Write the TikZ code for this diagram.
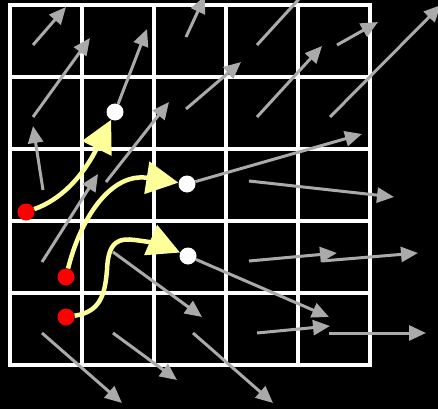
\documentclass[tikz,border=0pt]{standalone}
\usepackage{tikz}
\usetikzlibrary{arrows.meta}
\definecolor{cG}{HTML}{AAAAAA}
\definecolor{cY}{HTML}{FFFF99}
\definecolor{cR}{HTML}{FF0000}
\tikzset{
  gridline/.style={white,line width=3.5pt,line cap=rect},
  src/.style={circle,fill=cR,inner sep=0pt,minimum size=17pt},
  dst/.style={circle,fill=white,inner sep=0pt,minimum size=17pt},
  flow/.style={-{Triangle[length=17pt,width=15pt]},cG,line width=3pt},
  traj/.style={-{Triangle[length=32pt,width=32pt]},cY,line width=4.5pt},
}

\begin{document}
\begin{tikzpicture}[x=1pt,y=-1pt]
  % background and frame
  \fill[black] (0,0) rectangle (438,409);
  \clip (0,0) rectangle (438,409);
  % grid
  \foreach \k in {0,...,5}{
     \draw[gridline] (10+72*\k,5) -- (10+72*\k,365);
     \draw[gridline] (10,5+72*\k) -- (370,5+72*\k);
  }
  % start and end points
  \node[src] (r1) at (26,212) {};
  \node[src] (r2) at (66,277) {};
  \node[src] (r3) at (66,317) {};
  \node[dst] (w1) at (115,112) {};
  \node[dst] (w2) at (187,184) {};
  \node[dst] (w3) at (188,256) {};
  % vector field
  \foreach \ax/\ay/\bx/\by [count=\i] in {
      33/45/66/7, 33/117/90/38, 186/37/205/-4, 257/45/320/-24,
      337/45/378/22, 43/190/33/126, 186/109/241/62, 257/117/322/46,
      330/117/441/5, 106/182/169/102, 249/181/394/197, 42/262/98/174,
      113/252/202/317, 249/261/337/253, 322/261/418/253, 42/333/122/403,
      113/333/177/380, 193/333/273/403, 257/333/330/326, 329/333/426/333}{
     \coordinate (t\i) at (\ax,\ay);
     \coordinate (h\i) at (\bx,\by);
     \draw[flow] (t\i) -- (h\i);
  }
  \coordinate (e1) at (147,29);
  \coordinate (e2) at (362,134);
  \coordinate (e3) at (329,317);
  \draw[flow] (w1) -- (e1);
  \draw[flow] (w2) -- (e2);
  \draw[flow] (w3) -- (e3);
  % trajectories
  \draw[traj] (r1) .. controls (60,200) and (82,178) .. (w1);
  \draw[traj] (r2) .. controls (80,220) and (110,172) .. (w2);
  \draw[traj] (r3) .. controls (100,312) and (105,295) .. (107,270)
     .. controls (108,240) and (120,238) .. (135,240)
     .. controls (150,242) and (160,244) .. (w3);
\end{tikzpicture}
\end{document}
